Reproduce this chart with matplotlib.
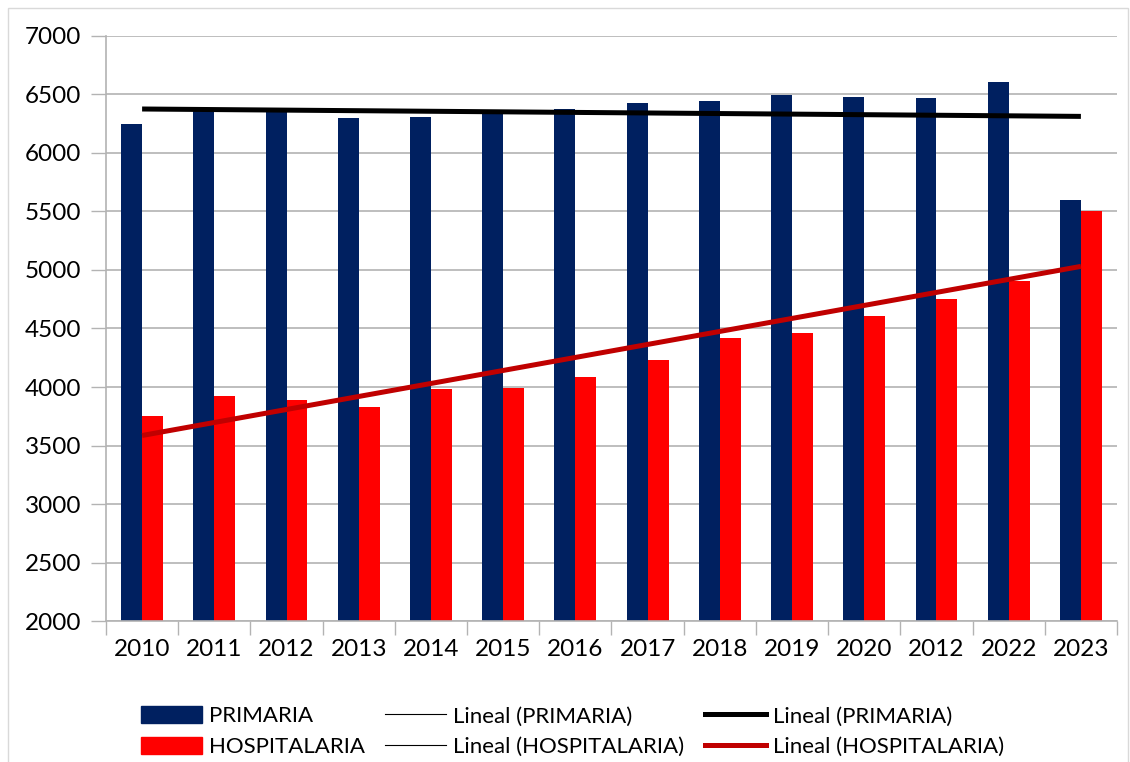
import numpy as np
import matplotlib.pyplot as plt
from matplotlib.patches import Patch, Rectangle
from matplotlib.lines import Line2D

years = ["2010", "2011", "2012", "2013", "2014", "2015", "2016",
         "2017", "2018", "2019", "2020", "2012", "2022", "2023"]
primaria = [6250, 6360, 6360, 6300, 6310, 6340, 6375,
            6430, 6445, 6495, 6480, 6470, 6605, 5600]
hospitalaria = [3750, 3920, 3890, 3830, 3980, 3990, 4085,
                4230, 4420, 4460, 4605, 4750, 4905, 5500]

navy = "#002060"
red = "#ff0000"
dark_red = "#c00000"
grid_c = "#b3b3b3"

plt.rcParams["font.family"] = ["Lato", "DejaVu Sans"]

fig = plt.figure(figsize=(11.3, 7.62), dpi=100)
ax = fig.add_axes([0.0938, 0.185, 0.8947, 0.7678])

x = np.arange(len(years))
w = 0.29
ax.bar(x - w / 2, primaria, w, color=navy, zorder=2)
ax.bar(x + w / 2, hospitalaria, w, color=red, zorder=2)

# linear trend lines
p1 = np.polyfit(x, primaria, 1)
p2 = np.polyfit(x, hospitalaria, 1)
ax.plot(x, np.polyval(p1, x), color="black", lw=3.6, zorder=3, solid_capstyle="butt")
ax.plot(x, np.polyval(p2, x), color=dark_red, lw=3.6, zorder=3, solid_capstyle="butt")

ax.set_xlim(-0.5, len(years) - 0.5)
ax.set_ylim(2000, 7000)
ax.set_yticks(np.arange(2000, 7001, 500))
ax.set_xticks(x)
ax.set_xticklabels(years)
ax.set_xticks(np.arange(-0.5, len(years)), minor=True)
ax.tick_params(axis="x", which="major", length=0, pad=13, labelsize=17.5)
ax.tick_params(axis="x", which="minor", length=10, color=grid_c, width=1)
ax.tick_params(axis="y", length=11, color=grid_c, width=1, pad=7, labelsize=17.5)

ax.yaxis.grid(True, color=grid_c, lw=1.2, zorder=0)
ax.set_axisbelow(True)
for s in ["top", "right"]:
    ax.spines[s].set_visible(False)
ax.spines["left"].set_color(grid_c)
ax.spines["bottom"].set_color(grid_c)
ax.spines["left"].set_linewidth(1.2)
ax.spines["bottom"].set_linewidth(1.2)

handles = [
    Patch(color=navy), Patch(color=red),
    Line2D([], [], color="black", lw=0.8), Line2D([], [], color="black", lw=0.8),
    Line2D([], [], color="black", lw=3.6), Line2D([], [], color=dark_red, lw=3.6),
]
labels = ["PRIMARIA", "HOSPITALARIA",
          "Lineal (PRIMARIA)", "Lineal (HOSPITALARIA)",
          "Lineal (PRIMARIA)", "Lineal (HOSPITALARIA)"]
fig.legend(handles, labels, ncol=3, loc="lower left",
           bbox_to_anchor=(0.113, -0.011), frameon=False, fontsize=16,
           handlelength=2.75, handleheight=0.8, handletextpad=0.32,
           columnspacing=0.9, labelspacing=0.47, borderaxespad=0.2)

fig.patches.append(Rectangle((0.007, -0.01), 0.991, 1.0, transform=fig.transFigure,
                             fill=False, edgecolor="#d9d9d9", lw=1))

fig.savefig("out.png", dpi=100)
plt.close(fig)
